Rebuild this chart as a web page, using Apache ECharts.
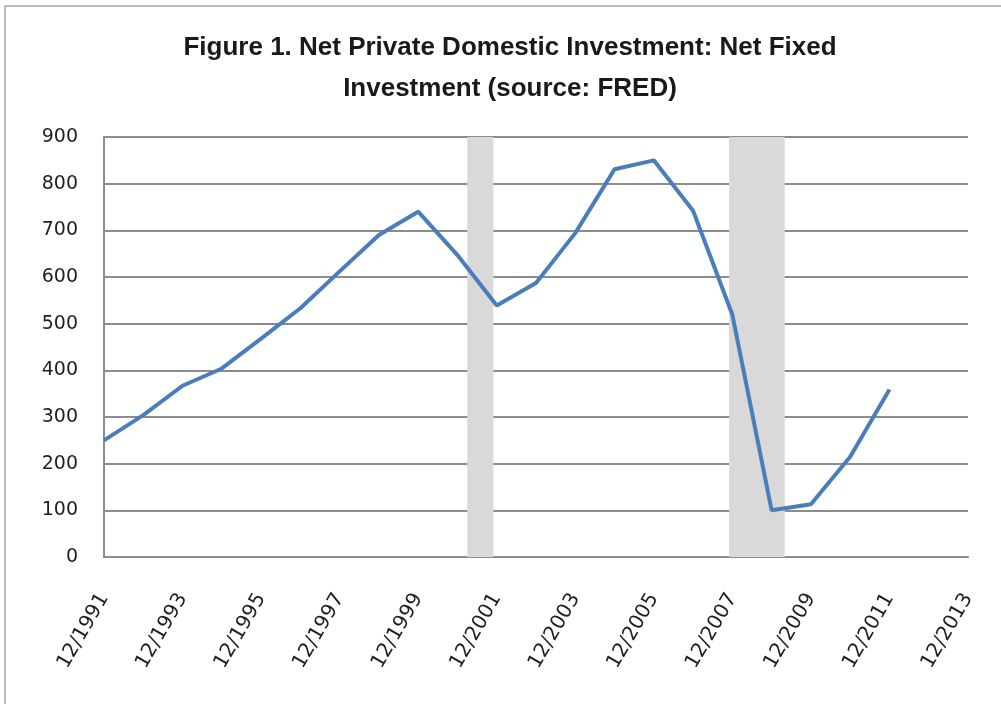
<!DOCTYPE html>
<html>
<head>
<meta charset="utf-8">
<script src="https://cdn.jsdelivr.net/npm/echarts@6/dist/echarts.min.js"></script>
<style>
  html, body { margin: 0; padding: 0; background: #fff; }
  #chart { width: 1001px; height: 704px; }
</style>
</head>
<body>
<div id="chart"></div>
<script>
// annual values, December of each year (billions of dollars)
var years = [1991, 1992, 1993, 1994, 1995, 1996, 1997, 1998, 1999, 2000,
             2001, 2002, 2003, 2004, 2005, 2006, 2007, 2008, 2009, 2010, 2011];
var values = [250, 304, 367, 404, 468, 533, 612, 690, 740, 647,
              539, 587, 694, 831, 850, 742, 519, 100, 113, 215, 359];

// recession shading, [year, month] start / end
var recessions = [
    [[2001, 3], [2001, 11]],
    [[2007, 11], [2009, 4]]
];

var yTicks = [0, 100, 200, 300, 400, 500, 600, 700, 800, 900];

// x is counted in years from 12/1991
var baseYear = 1991;
function offset(y, m) {
    return (y - baseYear) + (m - 12) / 12;
}

var lineData = [];
for (var i = 0; i < years.length; i++) {
    lineData.push([offset(years[i], 12), values[i]]);
}

var areas = recessions.map(function (r) {
    return [{ xAxis: offset(r[0][0], r[0][1]) }, { xAxis: offset(r[1][0], r[1][1]) }];
});

var myChart = echarts.init(document.getElementById('chart'));

var gridColor = '#8c8c8c';

var option = {
    animation: false,
    backgroundColor: '#fff',
    title: {
        text: 'Figure 1. Net Private Domestic Investment: Net Fixed\nInvestment (source: FRED)',
        left: 510,
        top: 27,
        padding: 0,
        textAlign: 'center',
        textStyle: {
            fontFamily: 'Liberation Sans',
            fontWeight: 'bold',
            fontSize: 26,
            lineHeight: 41,
            color: '#1a1a1a'
        }
    },
    graphic: [{
        type: 'rect',
        shape: { x: 5, y: 6, width: 1010, height: 720 },
        style: { fill: 'none', stroke: '#a6a6a6', lineWidth: 1.5 },
        silent: true
    }],
    grid: {
        left: 104,
        right: 33,
        top: 137,
        bottom: 147
    },
    xAxis: {
        type: 'value',
        min: 0,
        max: 22,
        interval: 2,
        axisLine: { show: true, lineStyle: { color: gridColor, width: 2 } },
        axisTick: { show: false },
        splitLine: { show: false },
        axisLabel: {
            rotate: 60,
            margin: 38,
            fontFamily: 'DejaVu Sans',
            fontSize: 20,
            color: '#1f1f1f',
            formatter: function (v) { return '12/' + (baseYear + v); }
        }
    },
    yAxis: {
        type: 'value',
        min: yTicks[0],
        max: yTicks[yTicks.length - 1],
        interval: 100,
        axisLine: { show: true, lineStyle: { color: gridColor, width: 2 } },
        axisTick: { show: false },
        splitLine: { show: true, lineStyle: { color: gridColor, width: 2 } },
        axisLabel: {
            margin: 26,
            fontFamily: 'DejaVu Sans',
            fontSize: 19,
            color: '#1f1f1f'
        }
    },
    series: [{
        type: 'line',
        data: lineData,
        showSymbol: false,
        lineStyle: { color: '#4a7ebb', width: 4 },
        z: 5,
        markArea: {
            silent: true,
            itemStyle: { color: '#d9d9d9' },
            data: areas
        }
    }]
};

myChart.setOption(option);
</script>
</body>
</html>
